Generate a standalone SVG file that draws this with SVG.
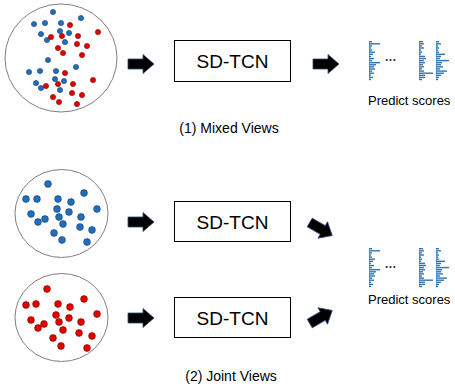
<svg xmlns="http://www.w3.org/2000/svg" xmlns:xlink="http://www.w3.org/1999/xlink" width="455" height="386" viewBox="0 0 455 386">
<style>
.circ{fill:#fff;stroke:#7f7f7f;stroke-width:1}
.b{fill:#1f6fbf;stroke:#1b3d6b;stroke-width:0.6}
.r{fill:#e50000;stroke:#7a0000;stroke-width:0.6}
.box{fill:#fff;stroke:#000;stroke-width:1}
.lbl{font-family:"Liberation Sans",Arial,sans-serif;font-size:19px;fill:#000;text-anchor:middle}
.cap{font-family:"Liberation Sans",Arial,sans-serif;font-size:14px;fill:#000;text-anchor:middle}
.ps{font-family:"Liberation Sans",Arial,sans-serif;font-size:13px;fill:#000}
.arr{fill:#000;stroke:#2f4a7f;stroke-width:0.8}
.bar{fill:#2e75b6}
</style>
<defs>
<path id="arrow" d="M-13,-5 L2,-5 L2,-9.5 L13,0 L2,9.5 L2,5 L-13,5 Z"/>
<g id="icon">
<rect class="bar" x="0" y="0" width="1" height="39" opacity="0.5"/>
<g class="bar">
<rect x="0" y="0" width="3" height="1.4"/>
<rect x="0" y="2.1" width="11" height="1.4"/>
<rect x="0" y="4.2" width="3" height="1.4"/>
<rect x="0" y="6.3" width="2" height="1.4"/>
<rect x="0" y="8.4" width="3" height="1.4"/>
<rect x="0" y="10.5" width="6" height="1.4"/>
<rect x="0" y="12.6" width="4" height="1.4"/>
<rect x="0" y="14.7" width="2" height="1.4"/>
<rect x="0" y="16.8" width="5" height="1.4"/>
<rect x="0" y="18.9" width="3" height="1.4"/>
<rect x="0" y="21" width="11" height="1.4"/>
<rect x="0" y="23.1" width="7" height="1.4"/>
<rect x="0" y="25.2" width="5" height="1.4"/>
<rect x="0" y="27.3" width="6" height="1.4"/>
<rect x="0" y="29.4" width="3" height="1.4"/>
<rect x="0" y="31.5" width="5" height="1.4"/>
<rect x="0" y="33.6" width="2" height="1.4"/>
<rect x="0" y="35.7" width="4" height="1.4"/>
<rect x="0" y="37.8" width="2" height="1.4"/>
</g>
<text x="15.5" y="19.5" style="font-family:'Liberation Sans',Arial,sans-serif;font-size:12px;font-weight:bold;fill:#333">…</text>
<rect class="bar" x="50" y="0" width="1" height="39" opacity="0.5"/>
<g class="bar">
<rect x="50" y="0" width="4" height="1.4"/>
<rect x="50" y="2.1" width="5" height="1.4"/>
<rect x="50" y="4.2" width="3" height="1.4"/>
<rect x="50" y="6.3" width="5" height="1.4"/>
<rect x="50" y="8.4" width="2" height="1.4"/>
<rect x="50" y="10.5" width="3" height="1.4"/>
<rect x="50" y="12.6" width="2" height="1.4"/>
<rect x="50" y="14.7" width="6" height="1.4"/>
<rect x="50" y="16.8" width="7" height="1.4"/>
<rect x="50" y="18.9" width="5" height="1.4"/>
<rect x="50" y="21" width="6" height="1.4"/>
<rect x="50" y="23.1" width="4" height="1.4"/>
<rect x="50" y="25.2" width="5" height="1.4"/>
<rect x="50" y="27.3" width="3" height="1.4"/>
<rect x="50" y="29.4" width="5" height="1.4"/>
<rect x="50" y="31.5" width="14" height="1.4"/>
<rect x="50" y="33.6" width="6" height="1.4"/>
<rect x="50" y="35.7" width="6" height="1.4"/>
<rect x="50" y="37.8" width="3" height="1.4"/>
</g>
<rect class="bar" x="67" y="0" width="1" height="39" opacity="0.5"/>
<g class="bar">
<rect x="67" y="0" width="3" height="1.4"/>
<rect x="67" y="2.1" width="5" height="1.4"/>
<rect x="67" y="4.2" width="2" height="1.4"/>
<rect x="67" y="6.3" width="3" height="1.4"/>
<rect x="67" y="8.4" width="2" height="1.4"/>
<rect x="67" y="10.5" width="3" height="1.4"/>
<rect x="67" y="12.6" width="9" height="1.4"/>
<rect x="67" y="14.7" width="5" height="1.4"/>
<rect x="67" y="16.8" width="4" height="1.4"/>
<rect x="67" y="18.9" width="13" height="1.4"/>
<rect x="67" y="21" width="6" height="1.4"/>
<rect x="67" y="23.1" width="5" height="1.4"/>
<rect x="67" y="25.2" width="7" height="1.4"/>
<rect x="67" y="27.3" width="4" height="1.4"/>
<rect x="67" y="29.4" width="11" height="1.4"/>
<rect x="67" y="31.5" width="8" height="1.4"/>
<rect x="67" y="33.6" width="5" height="1.4"/>
<rect x="67" y="35.7" width="3" height="1.4"/>
<rect x="67" y="37.8" width="2" height="1.4"/>
</g>
</g>
</defs>

<g id="mixed-views">
<ellipse class="circ" cx="61" cy="58" rx="56" ry="54"/>
<g class="b">
<circle cx="53" cy="12" r="2.6"/><circle cx="34" cy="24" r="2.6"/><circle cx="45" cy="23" r="2.6"/><circle cx="61" cy="23" r="2.6"/><circle cx="81" cy="18" r="2.6"/>
<circle cx="41" cy="34" r="2.6"/><circle cx="60" cy="31" r="2.6"/><circle cx="69" cy="33" r="2.6"/><circle cx="47" cy="40" r="2.6"/><circle cx="65" cy="42" r="2.6"/>
<circle cx="48" cy="60" r="2.6"/><circle cx="76" cy="67" r="2.6"/><circle cx="29" cy="72" r="2.6"/><circle cx="40" cy="71" r="2.6"/><circle cx="56" cy="71" r="2.6"/>
<circle cx="55" cy="79" r="2.6"/><circle cx="64" cy="81" r="2.6"/><circle cx="36" cy="83" r="2.6"/><circle cx="41" cy="88" r="2.6"/><circle cx="60" cy="90" r="2.6"/>
</g>
<g class="r">
<circle cx="70" cy="25" r="2.6"/><circle cx="98" cy="32" r="2.6"/><circle cx="62" cy="36" r="2.6"/><circle cx="51" cy="37" r="2.6"/><circle cx="78" cy="36" r="2.6"/>
<circle cx="77" cy="44" r="2.6"/><circle cx="87" cy="46" r="2.6"/><circle cx="58" cy="48" r="2.6"/><circle cx="63" cy="53" r="2.6"/><circle cx="82" cy="55" r="2.6"/>
<circle cx="65" cy="73" r="2.6"/><circle cx="93" cy="80" r="2.6"/><circle cx="46" cy="86" r="2.6"/><circle cx="58" cy="84" r="2.6"/><circle cx="73" cy="84" r="2.6"/>
<circle cx="72" cy="93" r="2.6"/><circle cx="82" cy="95" r="2.6"/><circle cx="53" cy="97" r="2.6"/><circle cx="59" cy="102" r="2.6"/><circle cx="77" cy="104" r="2.6"/>
</g>
</g>

<g id="blue-view">
<ellipse class="circ" cx="61.5" cy="213.5" rx="46.5" ry="44"/>
<g class="b">
<circle cx="48" cy="184" r="3.4"/><circle cx="26" cy="199" r="3.4"/><circle cx="37" cy="199" r="3.4"/><circle cx="58" cy="199" r="3.4"/><circle cx="84" cy="193" r="3.4"/>
<circle cx="71" cy="202" r="3.4"/><circle cx="97" cy="209" r="3.4"/><circle cx="57" cy="209" r="3.4"/><circle cx="69" cy="212" r="3.4"/><circle cx="31" cy="214" r="3.4"/>
<circle cx="59" cy="217" r="3.4"/><circle cx="81" cy="217" r="3.4"/><circle cx="45" cy="219" r="3.4"/><circle cx="38" cy="222" r="3.4"/><circle cx="63" cy="224" r="3.4"/>
<circle cx="80" cy="227" r="3.4"/><circle cx="92" cy="230" r="3.4"/><circle cx="54" cy="233" r="3.4"/><circle cx="62" cy="240" r="3.4"/><circle cx="87" cy="242" r="3.4"/>
</g>
</g>

<g id="red-view">
<ellipse class="circ" cx="61.5" cy="317.5" rx="46.5" ry="44"/>
<g class="r">
<circle cx="47" cy="289" r="3.4"/><circle cx="26" cy="305" r="3.4"/><circle cx="36" cy="304" r="3.4"/><circle cx="58" cy="304" r="3.4"/><circle cx="84" cy="299" r="3.4"/>
<circle cx="70" cy="307" r="3.4"/><circle cx="97" cy="314" r="3.4"/><circle cx="56" cy="315" r="3.4"/><circle cx="69" cy="318" r="3.4"/><circle cx="31" cy="320" r="3.4"/>
<circle cx="59" cy="322" r="3.4"/><circle cx="81" cy="322" r="3.4"/><circle cx="44" cy="324" r="3.4"/><circle cx="38" cy="328" r="3.4"/><circle cx="63" cy="330" r="3.4"/>
<circle cx="79" cy="333" r="3.4"/><circle cx="92" cy="336" r="3.4"/><circle cx="53" cy="338" r="3.4"/><circle cx="61" cy="346" r="3.4"/><circle cx="87" cy="348" r="3.4"/>
</g>
</g>

<g id="sdtcn-1">
<rect class="box" x="174.5" y="40.5" width="116" height="41"/>
<text class="lbl" x="232.5" y="68">SD-TCN</text>
</g>
<g id="sdtcn-2">
<rect class="box" x="174.5" y="201.5" width="116" height="40"/>
<text class="lbl" x="232.5" y="228.5">SD-TCN</text>
</g>
<g id="sdtcn-3">
<rect class="box" x="174.5" y="297.5" width="116" height="40"/>
<text class="lbl" x="232.5" y="324.5">SD-TCN</text>
</g>

<g id="scores-1">
<use xlink:href="#icon" x="369" y="41"/>
<text class="ps" x="368" y="105">Predict scores</text>
</g>
<g id="scores-2">
<use xlink:href="#icon" x="369" y="248"/>
<text class="ps" x="368" y="304">Predict scores</text>
</g>

<g id="connectors">
<use xlink:href="#arrow" class="arr" transform="translate(141,64)"/>
<use xlink:href="#arrow" class="arr" transform="translate(326,64)"/>
<use xlink:href="#arrow" class="arr" transform="translate(141,222)"/>
<use xlink:href="#arrow" class="arr" transform="translate(321,229) rotate(30)"/>
<use xlink:href="#arrow" class="arr" transform="translate(141,318)"/>
<use xlink:href="#arrow" class="arr" transform="translate(321,317) rotate(-30)"/>
</g>

<text class="cap" x="229" y="133">(1) Mixed Views</text>
<text class="cap" x="231" y="381">(2) Joint Views</text>
</svg>
